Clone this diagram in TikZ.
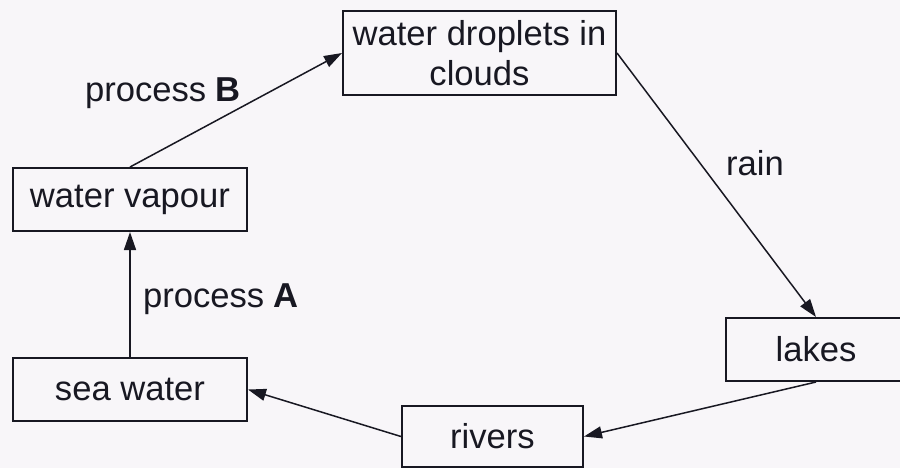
\documentclass[tikz,border=0pt]{standalone}
\usepackage{fontspec}
\setmainfont{Liberation Sans}
\usetikzlibrary{arrows.meta}
\definecolor{ink}{RGB}{24,24,34}
\definecolor{paper}{RGB}{248,246,249}
\begin{document}
\begin{tikzpicture}[x=0.5pt,y=-0.5pt,
  box/.style={draw=ink,line width=1pt,rectangle,inner sep=0pt,align=center,text=ink,
    font=\fontsize{17.3}{20}\selectfont},
  lbl/.style={text=ink,inner sep=0pt,font=\fontsize{17.3}{20}\selectfont},
  conn/.style={draw=ink,line width=0.75pt,-{Triangle[length=9pt,width=6pt]}}]
\path[fill=paper] (0,0) rectangle (900,468);
\useasboundingbox (0,0) rectangle (900,468);
\node[box,minimum width=136.5pt,minimum height=42pt] (drop) at (479.5,53) {water droplets in\\clouds};
\node[box,minimum width=117pt,minimum height=31.5pt] (vap) at (130,199.5) {water vapour};
\node[box,minimum width=117pt,minimum height=31.5pt] (sea) at (130,389.5) {sea water};
\node[box,minimum width=90.5pt,minimum height=30.5pt] (riv) at (492.5,436.5) {rivers};
\node[box,minimum width=90pt,minimum height=31.5pt] (lak) at (816,349.5) {lakes};
\node[lbl] (pb) at (163,93) {process \textbf{B}};
\node[lbl] (rn) at (755,163) {rain};
\node[lbl] (pa) at (221,299) {process \textbf{A}};
\draw[conn] (vap.north) -- (drop.west);
\draw[conn] (drop.east) -- (lak.north);
\draw[conn] (lak.south) -- (riv.east);
\draw[conn] (riv.west) -- (sea.east);
\draw[conn] (sea.north) -- (vap.south);
\end{tikzpicture}
\end{document}
